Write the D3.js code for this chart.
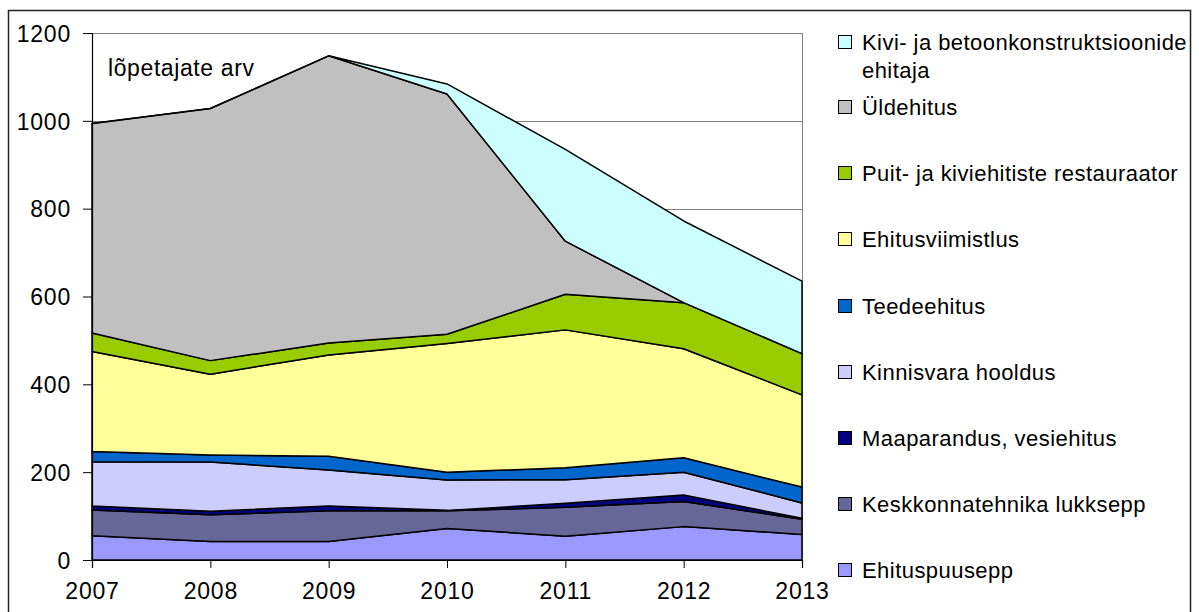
<!DOCTYPE html>
<html>
<head>
<meta charset="utf-8">
<script src="https://cdn.jsdelivr.net/npm/d3@7"></script>
<style>
  body { margin: 0; background: #fff; }
  svg { font-family: "Liberation Sans", Arial, sans-serif; }
</style>
</head>
<body>
<div id="chart"></div>
<script>
// years on the x axis
var years = ['2007', '2008', '2009', '2010', '2011', '2012', '2013'];

// series, bottom of the stack first
var ehituspuusepp = [55, 42, 42, 72, 54, 76, 58];
var keskkonnatehnika = [59, 61, 70, 40, 66, 57, 35];
var maaparandus = [9, 8, 11, 1, 9, 15, 2];
var kinnisvara = [101, 112, 82, 69, 54, 52, 35];
var teedeehitus = [23, 16, 31, 18, 27, 33, 36];
var ehitusviimistlus = [228, 184, 231, 293, 314, 248, 210];
var restauraator = [42, 31, 27, 21, 81, 105, 94];
var yldehitus = [477, 574, 654, 547, 121, 0, 0];
var kivibetoon = [0, 0, 0, 23, 209, 186, 165];

var seriesNames = [
    'Ehituspuusepp',
    'Keskkonnatehnika lukksepp',
    'Maaparandus, vesiehitus',
    'Kinnisvara hooldus',
    'Teedeehitus',
    'Ehitusviimistlus',
    'Puit- ja kiviehitiste restauraator',
    'Üldehitus',
    'Kivi- ja betoonkonstruktsioonide ehitaja'
];
var seriesValues = [ehituspuusepp, keskkonnatehnika, maaparandus, kinnisvara,
    teedeehitus, ehitusviimistlus, restauraator, yldehitus, kivibetoon];
var colors = ['#9999ff', '#666699', '#000080', '#ccccff', '#0066cc',
    '#ffff99', '#99cc00', '#c0c0c0', '#ccffff'];

var yTicks = [0, 200, 400, 600, 800, 1000, 1200];
var yLabel = 'lõpetajate arv';

var width = 1199, height = 612;
var svg = d3.select('#chart').append('svg')
    .attr('width', width)
    .attr('height', height);

// outer frame, bottom edge falls outside the picture
svg.append('rect')
    .attr('x', 8.5).attr('y', 10.5)
    .attr('width', 1182).attr('height', 640)
    .attr('fill', 'none')
    .attr('stroke', '#222')
    .attr('stroke-width', 1.5);

var x = d3.scalePoint().domain(years).range([92, 802]);
var y = d3.scaleLinear().domain([0, 1200]).range([560, 33]);

// rows for the stack
var table = years.map(function (yr, i) {
    var row = {year: yr};
    seriesNames.forEach(function (n, k) { row[n] = seriesValues[k][i]; });
    return row;
});
var stacked = d3.stack().keys(seriesNames)(table);

// gridlines
svg.append('g').selectAll('line')
    .data(yTicks.filter(function (t) { return t > 0; }))
    .enter().append('line')
    .attr('x1', 92).attr('x2', 802)
    .attr('y1', function (d) { return Math.round(y(d)) + 0.5; })
    .attr('y2', function (d) { return Math.round(y(d)) + 0.5; })
    .attr('stroke', '#808080')
    .attr('stroke-width', 1);

// right border of the plot area
svg.append('line')
    .attr('x1', 802.5).attr('x2', 802.5)
    .attr('y1', y(1200)).attr('y2', y(0))
    .attr('stroke', '#808080');

var area = d3.area()
    .x(function (d) { return x(d.data.year); })
    .y0(function (d) { return y(d[0]); })
    .y1(function (d) { return y(d[1]); });

svg.append('g').selectAll('path')
    .data(stacked)
    .enter().append('path')
    .attr('d', area)
    .attr('fill', function (d, i) { return colors[i]; })
    .attr('stroke', '#000')
    .attr('stroke-width', 1.5)
    .attr('stroke-linejoin', 'round');

// axes
var yAxis = d3.axisLeft(y).tickValues(yTicks).tickFormat(d3.format('d'))
    .tickSize(9).tickPadding(12);
var gy = svg.append('g').attr('transform', 'translate(92,0)').call(yAxis);
var xAxis = d3.axisBottom(x).tickSize(8).tickPadding(14);
var gx = svg.append('g').attr('transform', 'translate(0,560)').call(xAxis);

[gy, gx].forEach(function (g) {
    g.select('.domain').attr('stroke', '#000').attr('stroke-width', 1.2);
    g.selectAll('.tick line').attr('stroke', '#000');
    g.selectAll('text')
        .attr('font-family', '"Liberation Sans", Arial, sans-serif')
        .attr('font-size', 23)
        .attr('letter-spacing', 0.8)
        .attr('fill', '#000');
});
gy.selectAll('text').attr('dy', '0.36em');
gx.selectAll('text').attr('dy', '0.72em');

svg.append('text')
    .attr('x', 108).attr('y', 76)
    .attr('font-size', 23)
    .attr('letter-spacing', 0.6)
    .text(yLabel);

// legend, top entry first
var legendRows = [
    {k: 8, lines: ['Kivi- ja betoonkonstruktsioonide', 'ehitaja'], y: 42},
    {k: 7, lines: ['Üldehitus'], y: 107}
];
for (var k = 6; k >= 0; k--) {
    legendRows.push({k: k, lines: [seriesNames[k]], y: 107 + (7 - k) * 66.2});
}

var leg = svg.append('g').selectAll('g')
    .data(legendRows)
    .enter().append('g');
leg.append('rect')
    .attr('x', 838.5)
    .attr('y', function (d) { return Math.round(d.y) - 6.5; })
    .attr('width', 13).attr('height', 13)
    .attr('fill', function (d) { return colors[d.k]; })
    .attr('stroke', '#000')
    .attr('stroke-width', 1);
leg.each(function (d) {
    var t = d3.select(this).append('text')
        .attr('x', 862)
        .attr('y', d.y)
        .attr('font-size', 22)
        .attr('letter-spacing', 0.45);
    d.lines.forEach(function (line, i) {
        t.append('tspan')
            .attr('x', 862)
            .attr('dy', i === 0 ? '0.36em' : 28)
            .text(line);
    });
});
</script>
</body>
</html>
